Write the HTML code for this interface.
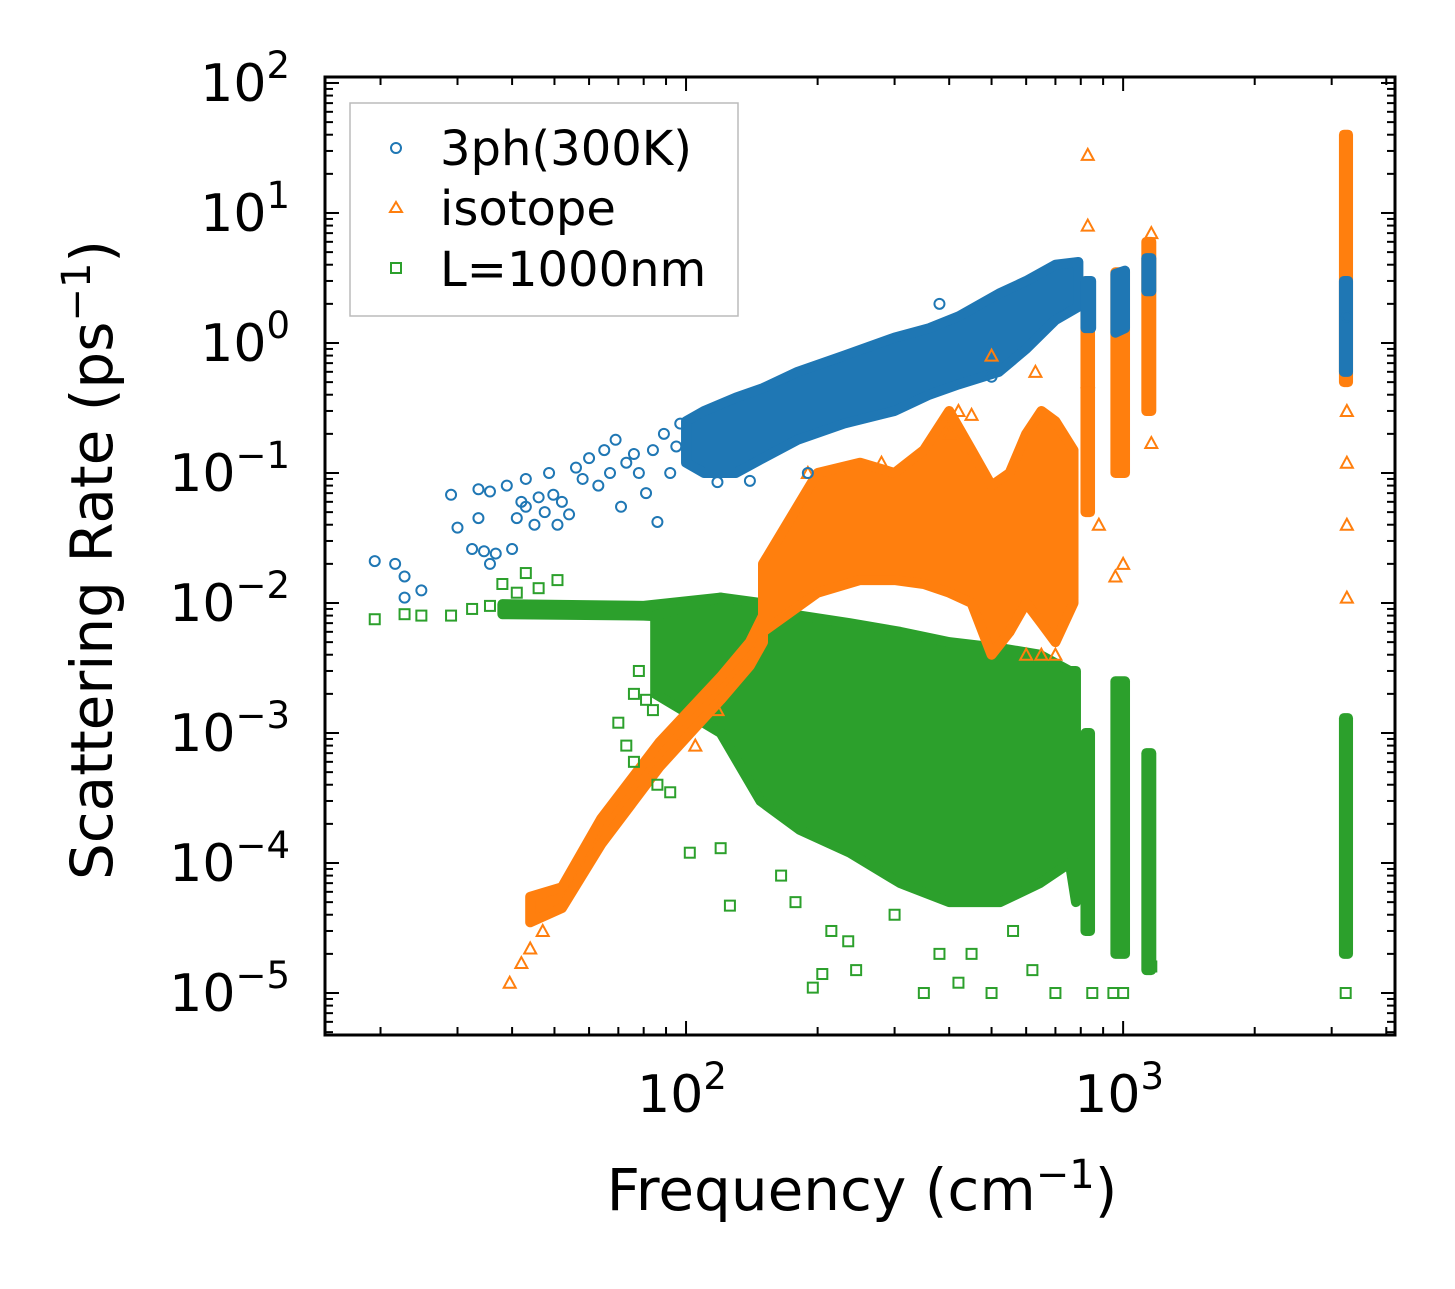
<!DOCTYPE html>
<html><head><meta charset="utf-8"><style>
html,body{margin:0;padding:0;background:#fff;}
svg text{font-family:"DejaVu Sans","Liberation Sans",sans-serif;fill:#000;}
</style></head><body>
<svg id="chart" width="1455" height="1284" viewBox="0 0 1455 1284" xmlns="http://www.w3.org/2000/svg">
<rect width="1455" height="1284" fill="#fff"/>
<g id="marks"></g>
<g id="axes"></g>
<g id="legend">
<rect x="350" y="103" width="388" height="213" fill="#fff" stroke="#bbb" stroke-width="1.5"/>
<circle cx="396" cy="148" r="5" fill="none" stroke="#1f77b4" stroke-width="2"/>
<text x="440" y="165" font-size="48">3ph(300K)</text>
<polygon points="396,202 402,212 390,212" fill="none" stroke="#ff7f0e" stroke-width="2"/>
<text x="440" y="225" font-size="48">isotope</text>
<rect x="391" y="263" width="10" height="10" fill="none" stroke="#2ca02c" stroke-width="2"/>
<text x="440" y="286" font-size="48">L=1000nm</text>
</g>
<text x="862" y="1210" font-size="58" text-anchor="middle">Frequency (cm<tspan dy="-22" font-size="40">−1</tspan><tspan dy="22">)</tspan></text>
<text transform="translate(112,560) rotate(-90)" font-size="58" text-anchor="middle">Scattering Rate (ps<tspan dy="-22" font-size="40">−1</tspan><tspan dy="22">)</tspan></text>
</svg>
<script>
// axis ranges (log10)
const xLogMin = 1.174, xLogMax = 3.622;
const yLogMin = -5.323, yLogMax = 2.046;
const PX0 = 325, PX1 = 1395, PY0 = 77, PY1 = 1035;
function X(f){return PX0+(Math.log10(f)-xLogMin)/(xLogMax-xLogMin)*(PX1-PX0);}
function Y(v){return PY1-(Math.log10(v)-yLogMin)/(yLogMax-yLogMin)*(PY1-PY0);}

// dense clouds as envelopes: segments of [freq, low, high]
const bands3ph = [
 [[100,0.12,0.25],[110,0.1,0.3],[130,0.1,0.38],[150,0.13,0.45],[180,0.18,0.6],[230,0.24,0.8],[300,0.3,1.1],[360,0.4,1.3],[420,0.48,1.6],[520,0.6,2.4],[600,0.9,3.0],[700,1.5,4.0],[790,1.9,4.2]],
 [[820,1.3,3.0],[845,1.3,3.0]],
 [[960,1.2,3.4],[1010,1.3,3.6]],
 [[1130,2.5,4.5],[1160,2.5,4.5]],
 [[3200,0.6,3.0],[3270,0.6,3.0]]
];
const bandsIso = [
 [[44,3.5e-5,5.5e-5],[52,4.5e-5,6.5e-5],[64,1.4e-4,2.2e-4],[87,5.5e-4,8.5e-4],[120,1.8e-3,2.7e-3],[140,3.3e-3,5e-3],[150,5e-3,8e-3]],
 [[150,0.006,0.02],[200,0.012,0.1],[250,0.015,0.12],[300,0.015,0.1],[350,0.014,0.15],[400,0.012,0.3],[450,0.01,0.15],[500,0.004,0.08],[550,0.006,0.1],[600,0.01,0.2],[650,0.007,0.3],[700,0.005,0.25],[770,0.01,0.15]],
 [[820,0.05,3.0],[840,0.05,3.0]],
 [[960,0.1,3.5],[1010,0.1,3.5]],
 [[1130,0.3,6.0],[1160,0.3,6.0]],
 [[3200,0.5,40],[3270,0.5,40]]
];
const bandsBdy = [
 [[38,0.0082,0.0098],[80,0.008,0.0095],[120,0.0075,0.011]],
 [[85,0.002,0.008],[120,0.001,0.011],[148,3e-4,0.01],[182,1.8e-4,0.008],[237,1.2e-4,0.007],[309,7e-5,0.006],[400,5e-5,0.005],[523,5e-5,0.0045],[645,7e-5,0.004],[755,1e-4,0.003],[780,5e-5,0.003]],
 [[820,3e-5,1e-3],[840,3e-5,1e-3]],
 [[960,2e-5,2.5e-3],[1010,2e-5,2.5e-3]],
 [[1130,1.5e-5,7e-4],[1160,1.5e-5,7e-4]],
 [[3200,2e-5,1.3e-3],[3270,2e-5,1.3e-3]]
];
// sparse points [freq, rate]
const pts3ph = [[19.4,0.021],[21.6,0.02],[22.7,0.016],[22.7,0.011],[24.8,0.0125],[29,0.068],[30,0.038],[32.4,0.026],[33.5,0.045],[33.5,0.075],[34.5,0.025],[35.6,0.072],[35.6,0.02],[36.7,0.024],[38.9,0.08],[40,0.026],[41,0.045],[42,0.06],[43,0.09],[43,0.055],[45,0.04],[46,0.065],[47.5,0.05],[48.6,0.1],[49.7,0.068],[50.8,0.04],[52,0.06],[54,0.048],[56,0.11],[58,0.09],[60,0.13],[63,0.08],[65,0.15],[67,0.1],[69,0.18],[71,0.055],[73,0.12],[76,0.14],[78,0.1],[81,0.07],[84,0.15],[86,0.042],[89,0.2],[92,0.1],[95,0.16],[97,0.24],[118,0.085],[140,0.087],[190,0.1],[380,2.0],[500,0.55],[3250,1.6]];
const ptsIso = [[39.5,1.2e-5],[42,1.7e-5],[44,2.2e-5],[47,3e-5],[105,8e-4],[118,1.5e-3],[500,0.8],[630,0.6],[830,28],[830,8],[830,0.5],[880,0.04],[960,0.016],[1000,0.02],[1160,0.17],[3250,0.011],[3250,0.04],[3250,0.12],[3250,0.3],[390,0.26],[420,0.3],[450,0.28],[400,0.2],[600,0.004],[650,0.004],[700,0.004],[190,0.1],[280,0.12],[1160,7]];
const ptsBdy = [[19.4,0.0075],[22.7,0.0082],[24.8,0.008],[29,0.008],[32.4,0.009],[35.6,0.0095],[38,0.014],[41,0.012],[43,0.017],[46,0.013],[50.8,0.015],[70,0.0012],[76,0.002],[78,0.003],[81,0.0018],[84,0.0015],[73,0.0008],[76,0.0006],[86,4e-4],[92,3.5e-4],[102,1.2e-4],[120,1.3e-4],[126,4.7e-5],[165,8e-5],[178,5e-5],[195,1.1e-5],[205,1.4e-5],[215,3e-5],[235,2.5e-5],[245,1.5e-5],[300,4e-5],[350,1e-5],[380,2e-5],[420,1.2e-5],[450,2e-5],[500,1e-5],[560,3e-5],[620,1.5e-5],[700,1e-5],[850,1e-5],[950,1e-5],[1000,1e-5],[3230,1e-5],[1160,1.6e-5]];

const NS='http://www.w3.org/2000/svg';
const marks=document.getElementById('marks');
function mk(tag,attrs,parent){const e=document.createElementNS(NS,tag);for(const k in attrs)e.setAttribute(k,attrs[k]);parent.appendChild(e);return e;}
function drawBands(bands,color,name){
 bands.forEach(seg=>{
  const top=seg.map(d=>X(d[0])+','+Y(d[2]));
  const bot=seg.slice().reverse().map(d=>X(d[0])+','+Y(d[1]));
  const p=mk('polygon',{points:top.concat(bot).join(' '),fill:color,stroke:color,'stroke-width':10,'stroke-linejoin':'round'},marks);
  
  
 });
}
function drawPts(pts,color,shape,name){
 pts.forEach(d=>{
  const x=X(d[0]),y=Y(d[1]);let e;
  if(shape==='c') e=mk('circle',{cx:x,cy:y,r:5,fill:'none',stroke:color,'stroke-width':2},marks);
  else if(shape==='t') e=mk('polygon',{points:`${x},${y-6} ${x+6},${y+5} ${x-6},${y+5}`,fill:'none',stroke:color,'stroke-width':2},marks);
  else e=mk('rect',{x:x-5,y:y-5,width:10,height:10,fill:'none',stroke:color,'stroke-width':2},marks);
  
  
 });
}
drawBands(bandsBdy,'#2ca02c','boundary-cloud');
drawBands(bandsIso,'#ff7f0e','isotope-cloud');
drawBands(bands3ph,'#1f77b4','3ph-cloud');
drawPts(ptsBdy,'#2ca02c','s','boundary-point');
drawPts(ptsIso,'#ff7f0e','t','isotope-point');
drawPts(pts3ph,'#1f77b4','c','3ph-point');

// axes
const axes=document.getElementById('axes');
mk('rect',{x:PX0,y:PY0,width:PX1-PX0,height:PY1-PY0,fill:'none',stroke:'#000','stroke-width':3},axes);
const yExp=[2,1,0,-1,-2,-3,-4,-5];
const xExp=[2,3];
function line(x1,y1,x2,y2,w){mk('line',{x1,y1,x2,y2,stroke:'#000','stroke-width':w},axes);}
for(let e=-6;e<=2;e++){for(let m=1;m<10;m++){const v=m*Math.pow(10,e);const y=Y(v);if(y<PY0||y>PY1)continue;const L=m===1?14:8;line(PX0,y,PX0+L,y,2);line(PX1,y,PX1-L,y,2);}}
for(let e=1;e<=3;e++){for(let m=1;m<10;m++){const v=m*Math.pow(10,e);const x=X(v);if(x<PX0||x>PX1)continue;const L=m===1?14:8;line(x,PY1,x,PY1-L,2);line(x,PY0,x,PY0+L,2);}}
yExp.forEach(e=>{const t=mk('text',{x:290,y:Y(Math.pow(10,e))+18,'font-size':52,'text-anchor':'end'},axes);
 
 
 t.innerHTML='10<tspan dy="-23" font-size="37">'+(e<0?'−'+(-e):e)+'</tspan>';});
xExp.forEach(e=>{const t=mk('text',{x:X(Math.pow(10,e))-4,y:1112,'font-size':52,'text-anchor':'middle'},axes);
 
 
 t.innerHTML='10<tspan dy="-23" font-size="37">'+e+'</tspan>';});
</script>
</body></html>
